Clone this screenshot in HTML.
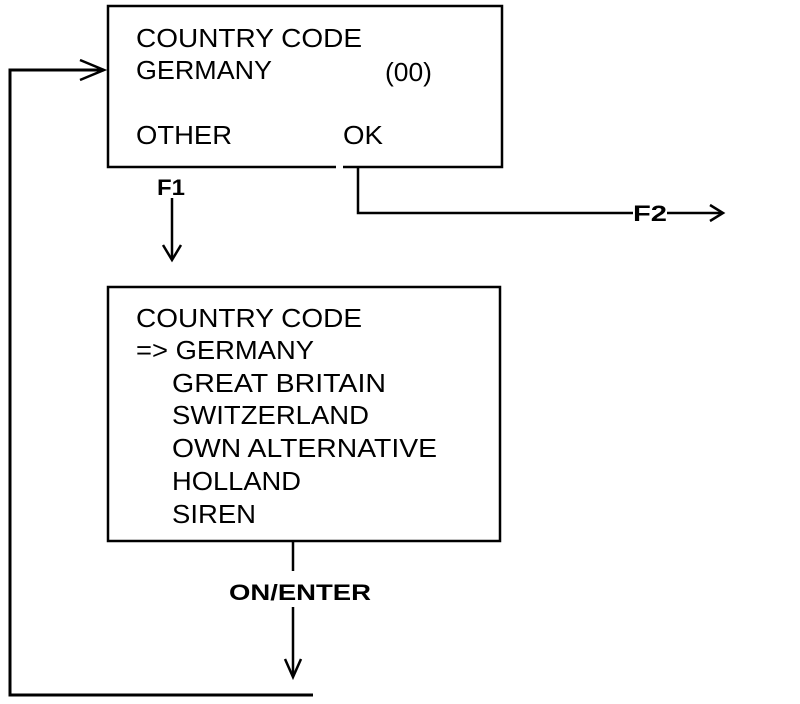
<!DOCTYPE html>
<html><head><meta charset="utf-8"><style>
html,body{margin:0;padding:0;background:#fff;}
svg{display:block;}
text{font-family:"Liberation Sans",Arial,sans-serif;fill:#000;}
</style></head><body>
<svg width="800" height="704" viewBox="0 0 800 704" xmlns="http://www.w3.org/2000/svg">
<g fill="none" stroke="#000" stroke-width="2.5">
  <!-- top box with gap in bottom border -->
  <polyline points="336,167 108,167 108,6 502,6 502,167 343,167"/>
  <!-- OK -> F2 connector -->
  <polyline points="358,168 358,213 633,213"/>
  <line x1="667" y1="213" x2="722" y2="213"/>
  <polyline points="710,205 723,213 710,221"/>
  <!-- F1 arrow -->
  <line x1="172" y1="198" x2="172" y2="259"/>
  <polyline points="163,245 172,260 181,245"/>
  <!-- bottom box -->
  <rect x="108" y="287" width="392" height="254"/>
  <!-- ON/ENTER -->
  <line x1="293" y1="541" x2="293" y2="571"/>
  <line x1="293" y1="607" x2="293" y2="676"/>
  <polyline points="285,659 293,677 301,659"/>
  <!-- return loop -->
  <polyline points="313,695 10,695 10,70 104,70" stroke-width="3"/>
  <polyline points="80,60 104,70 80,80"/>
</g>
<g font-size="26">
  <text x="136" y="47" textLength="226" lengthAdjust="spacingAndGlyphs">COUNTRY CODE</text>
  <text x="136" y="79" textLength="136" lengthAdjust="spacingAndGlyphs">GERMANY</text>
  <text x="385" y="81" textLength="47" lengthAdjust="spacingAndGlyphs">(00)</text>
  <text x="136" y="144" textLength="96" lengthAdjust="spacingAndGlyphs">OTHER</text>
  <text x="343" y="144" textLength="40" lengthAdjust="spacingAndGlyphs">OK</text>

  <text x="136" y="327" textLength="226" lengthAdjust="spacingAndGlyphs">COUNTRY CODE</text>
  <text x="136" y="359" textLength="178" lengthAdjust="spacingAndGlyphs">=&gt; GERMANY</text>
  <text x="172" y="392" textLength="214" lengthAdjust="spacingAndGlyphs">GREAT BRITAIN</text>
  <text x="172" y="424" textLength="197" lengthAdjust="spacingAndGlyphs">SWITZERLAND</text>
  <text x="172" y="457" textLength="265" lengthAdjust="spacingAndGlyphs">OWN ALTERNATIVE</text>
  <text x="172" y="490" textLength="129" lengthAdjust="spacingAndGlyphs">HOLLAND</text>
  <text x="172" y="523" textLength="84" lengthAdjust="spacingAndGlyphs">SIREN</text>
</g>
<g font-size="22" font-weight="bold">
  <text x="157" y="195" textLength="28" lengthAdjust="spacingAndGlyphs">F1</text>
  <text x="633" y="221" textLength="34" lengthAdjust="spacingAndGlyphs">F2</text>
  <text x="229" y="600" textLength="142" lengthAdjust="spacingAndGlyphs">ON/ENTER</text>
</g>
</svg>
</body></html>
